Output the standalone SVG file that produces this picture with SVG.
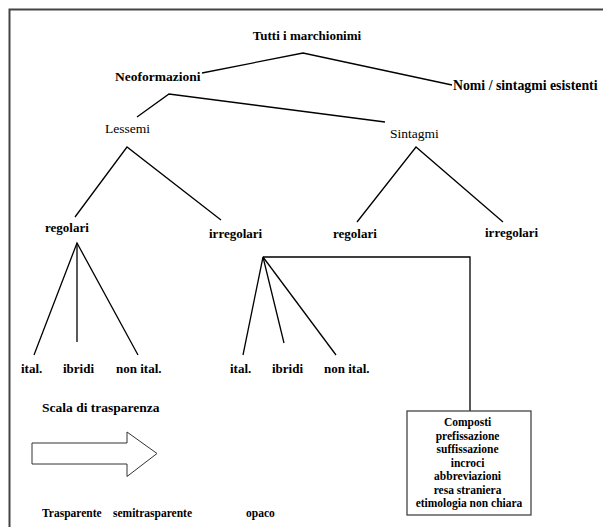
<svg xmlns="http://www.w3.org/2000/svg" width="603" height="527" viewBox="0 0 603 527">
<style>
.b{font-family:"Liberation Serif","Times New Roman",serif;font-weight:bold;font-size:13px;fill:#000}
.n{font-family:"Liberation Serif","Times New Roman",serif;font-size:13.5px;fill:#000}
.s{font-family:"Liberation Serif","Times New Roman",serif;font-weight:bold;font-size:11.5px;fill:#000}
.c{stroke:#000;stroke-width:1.3;fill:none}
</style>
<rect width="603" height="527" fill="#fff"/>
<path d="M9.5,527 V9.5 H603" stroke="#444" stroke-width="2" fill="none"/>
<g id="connectors" class="c">
<polyline points="202,73 303,53 452,85"/>
<polyline points="137,117 169,94 385,122"/>
<polyline points="75,217 127,147 221,220"/>
<polyline points="357,222 416,147 503,222"/>
<polyline points="34,355 77,243 138,355"/>
<line x1="77" y1="243" x2="77" y2="342"/>
<polyline points="243,355 263,257 284,343"/>
<line x1="263" y1="257" x2="336" y2="355"/>
<polyline points="263,257 470,257 470,411"/>
</g>
<g id="n-root"><text class="b" x="307" y="40" text-anchor="middle">Tutti i marchionimi</text></g>
<g id="n-neo"><text class="b" x="115" y="81" style="font-size:13.5px">Neoformazioni</text></g>
<g id="n-nomi"><text class="b" x="453" y="90" style="font-size:13.8px">Nomi / sintagmi esistenti</text></g>
<g id="n-lessemi"><text class="n" x="105" y="133">Lessemi</text></g>
<g id="n-sintagmi"><text class="n" x="390" y="138">Sintagmi</text></g>
<g id="n-reg1"><text class="b" x="45" y="232">regolari</text></g>
<g id="n-irr1"><text class="b" x="209" y="238">irregolari</text></g>
<g id="n-reg2"><text class="b" x="333" y="238">regolari</text></g>
<g id="n-irr2"><text class="b" x="485" y="237">irregolari</text></g>
<g id="n-leaves1">
<text class="b" x="21" y="373">ital.</text>
<text class="b" x="63" y="373">ibridi</text>
<text class="b" x="116" y="373">non ital.</text>
</g>
<g id="n-leaves2">
<text class="b" x="230" y="373">ital.</text>
<text class="b" x="272" y="373">ibridi</text>
<text class="b" x="324" y="373">non ital.</text>
</g>
<g id="n-box">
<rect x="407" y="411" width="124" height="104" fill="#fff" stroke="#444" stroke-width="1.3"/>
<text class="s" text-anchor="middle">
<tspan x="469" y="426">Composti</tspan>
<tspan x="469" y="439.5">prefissazione</tspan>
<tspan x="469" y="453">suffissazione</tspan>
<tspan x="469" y="466.5">incroci</tspan>
<tspan x="469" y="480">abbreviazioni</tspan>
<tspan x="469" y="493.5">resa straniera</tspan>
<tspan x="469" y="507">etimologia non chiara</tspan>
</text>
</g>
<g id="scale">
<text class="b" x="42" y="412" style="font-size:13.5px">Scala di trasparenza</text>
<polygon points="32,443 127,443 127,432 157,453.5 127,476.5 127,464 32,464" fill="#fff" stroke="#333" stroke-width="1"/>
<text class="s" x="42" y="517">Trasparente</text>
<text class="s" x="113" y="517">semitrasparente</text>
<text class="s" x="246" y="517">opaco</text>
</g>
</svg>
